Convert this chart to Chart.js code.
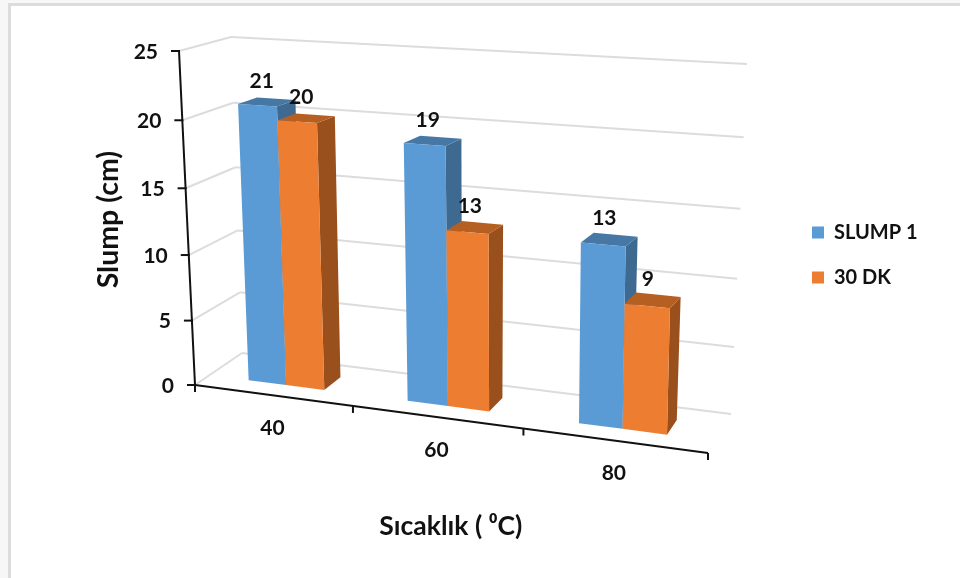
<!DOCTYPE html>
<html>
<head>
<meta charset="utf-8">
<script src="https://cdn.jsdelivr.net/npm/chart.js@4"></script>
<style>
  html, body { margin: 0; background: #fff; }
  #wrap { position: relative; width: 960px; height: 578px; overflow: hidden; background: #f7f7f7; }
  /* screenshot frame round the chart */
  #frame { position: absolute; left: 8px; top: 3px; right: -4px; bottom: -4px; background: #fff; border: 3px solid #dcdcdc; }
  canvas { position: absolute; left: 0; top: 0; }
</style>
</head>
<body>
<div id="wrap">
  <div id="frame"></div>
  <canvas id="chart" width="960" height="578"></canvas>
</div>
<script>
const categories = ["40", "60", "80"];
const seriesNames = ["SLUMP 1", "30 DK"];
const slump1 = [21, 19, 13];
const dk30 = [20, 13, 9];
const valueTicks = [0, 5, 10, 15, 20, 25];

const xTitle = "Sıcaklık ( ⁰C)";
const yTitle = "Slump (cm)";

const fontName = 'Lato, "Noto Sans", sans-serif';
const textColor = "#111";
const gridColor = "#dcdcdc";
const frontColors = ["#5B9BD5", "#ED7D31"];
const topColors = ["#4677A5", "#B65F23"];
const sideColors = ["#3E6A92", "#99501C"];

// corners of the 3d box on screen: value 0 left, value 0 right, top right, top left
const frontQuad = [[195, 385], [708, 453], [717, 79], [179, 51]];
const backQuad = [[242, 353], [731, 414], [747, 64], [231, 37]];
// bars stand between these two depths in the box
const barFront = 0.31;
const barBack = 0.69;

let area = null;

// maps the unit square on a four point shape (perspective)
function quadMap(q) {
    const [x0, y0] = q[0], [x1, y1] = q[1], [x2, y2] = q[2], [x3, y3] = q[3];
    const dx1 = x1 - x2, dx2 = x3 - x2, sx = x0 - x1 + x2 - x3;
    const dy1 = y1 - y2, dy2 = y3 - y2, sy = y0 - y1 + y2 - y3;
    const den = dx1 * dy2 - dx2 * dy1;
    const g = (sx * dy2 - dx2 * sy) / den;
    const h = (dx1 * sy - sx * dy1) / den;
    const a = x1 - x0 + g * x1, b = x3 - x0 + h * x3;
    const d = y1 - y0 + g * y1, e = y3 - y0 + h * y3;
    return (s, t) => {
        const n = g * s + h * t + 1;
        return [(a * s + b * t + x0) / n, (d * s + e * t + y0) / n];
    };
}
const frontMap = quadMap(frontQuad);
const backMap = quadMap(backQuad);

function project(s, t, w) {
    const p = frontMap(s, t), q = backMap(s, t);
    return [p[0] + (q[0] - p[0]) * w, p[1] + (q[1] - p[1]) * w];
}
// scale pixels to box coordinates
function toS(px) { return (px - area.left) / area.width; }
function toT(py) { return (area.bottom - py) / area.height; }

function fillFace(ctx, color, pts) {
    ctx.fillStyle = color;
    ctx.beginPath();
    pts.forEach((p, i) => i ? ctx.lineTo(p[0], p[1]) : ctx.moveTo(p[0], p[1]));
    ctx.closePath();
    ctx.fill();
}

function strokeLine(ctx, a, b, color, lineWidth) {
    ctx.strokeStyle = color;
    ctx.lineWidth = lineWidth;
    ctx.beginPath();
    ctx.moveTo(a[0], a[1]);
    ctx.lineTo(b[0], b[1]);
    ctx.stroke();
}

// bar element that draws the three visible faces, still placed by the chart's scales
class Bar3D extends Chart.BarElement {
    draw(ctx) {
        const { x, y, base, width } = this.getProps(["x", "y", "base", "width"], true);
        const s0 = toS(x - width / 2), s1 = toS(x + width / 2);
        const t0 = toT(base), t1 = toT(y);
        const i = frontColors.indexOf(this.options.backgroundColor);
        ctx.save();
        fillFace(ctx, sideColors[i], [project(s1, t0, barFront), project(s1, t1, barFront), project(s1, t1, barBack), project(s1, t0, barBack)]);
        fillFace(ctx, topColors[i], [project(s0, t1, barFront), project(s1, t1, barFront), project(s1, t1, barBack), project(s0, t1, barBack)]);
        fillFace(ctx, frontColors[i], [project(s0, t0, barFront), project(s1, t0, barFront), project(s1, t1, barFront), project(s0, t1, barFront)]);
        ctx.restore();
    }
}
Bar3D.id = "bar3d";
Bar3D.defaults = {};

class Bar3DController extends Chart.BarController {
    // chart.js paints the last dataset first, but here the right hand bar has to cover
    // the side of the left one. dataset 0 comes last so it paints them all in order
    draw() {
        if (this.index !== 0) return;
        const ctx = this.chart.ctx;
        this.chart.getSortedVisibleDatasetMetas().forEach(meta => {
            meta.data.forEach(bar => bar.draw(ctx));
        });
    }
}
Bar3DController.id = "bar3d";
Bar3DController.defaults = { dataElementType: "bar3d" };

Chart.register(Bar3D, Bar3DController);

const boxPlugin = {
    id: "box",
    afterLayout(chart) {
        // legend sits lower and further right than the default spot
        const legend = chart.legend;
        const h = legend.bottom - legend.top;
        legend.left = 787;
        legend.right = legend.left + legend.width;
        legend.top = 15;
        legend.bottom = legend.top + h;
    },
    beforeDatasetsDraw(chart) {
        area = chart.chartArea;
        const ctx = chart.ctx;
        const yScale = chart.scales.y;
        ctx.save();
        yScale.ticks.forEach(tick => {
            const t = toT(yScale.getPixelForValue(tick.value));
            strokeLine(ctx, project(0, t, 0), project(0, t, 1), gridColor, 2);
            strokeLine(ctx, project(0, t, 1), project(1, t, 1), gridColor, 2);
        });
        ctx.restore();
    },
    afterDatasetsDraw(chart) {
        const ctx = chart.ctx;
        const xScale = chart.scales.x, yScale = chart.scales.y;
        ctx.save();
        ctx.fillStyle = textColor;
        ctx.font = "bold 21px " + fontName;
        ctx.textBaseline = "middle";

        // value axis
        strokeLine(ctx, project(0, 0, 0), project(0, 1, 0), textColor, 2);
        ctx.textAlign = "right";
        yScale.ticks.forEach(tick => {
            const p = project(0, toT(yScale.getPixelForValue(tick.value)), 0);
            strokeLine(ctx, [p[0] - 8, p[1]], [p[0] + 1, p[1]], textColor, 2);
            ctx.fillText(String(tick.value), p[0] - 21, p[1] + 1);
        });

        // category axis
        strokeLine(ctx, project(0, 0, 0), project(1, 0, 0), textColor, 2);
        const band = xScale.width / categories.length;
        for (let i = 0; i <= categories.length; i++) {
            const p = project(toS(xScale.left + band * i), 0, 0);
            strokeLine(ctx, p, [p[0], p[1] + 7], textColor, 2);
        }
        ctx.textAlign = "center";
        categories.forEach((label, i) => {
            const p = project(toS(xScale.getPixelForTick(i)), 0, 0);
            ctx.fillText(label, p[0], p[1] + 33);
        });

        // value labels over the top face of each bar
        chart.data.datasets.forEach((dataset, d) => {
            chart.getDatasetMeta(d).data.forEach((bar, i) => {
                const p = project(toS(bar.x), toT(bar.y), 0.5);
                ctx.fillText(String(dataset.data[i]), p[0] - 5, p[1] - 21);
            });
        });
        ctx.restore();
    }
};

new Chart(document.getElementById("chart"), {
    type: "bar3d",
    data: {
        labels: categories,
        datasets: [
            { label: seriesNames[0], data: slump1, backgroundColor: frontColors[0], clip: false },
            { label: seriesNames[1], data: dk30, backgroundColor: frontColors[1], clip: false }
        ]
    },
    options: {
        responsive: false,
        animation: false,
        categoryPercentage: 0.485,
        barPercentage: 1,
        layout: { padding: { left: 92, right: 52, top: 62, bottom: 36 } },
        plugins: {
            tooltip: { enabled: false },
            legend: {
                position: "right",
                labels: {
                    boxWidth: 12,
                    boxHeight: 12,
                    padding: 25,
                    color: textColor,
                    font: { family: fontName, size: 20, weight: "bold" }
                }
            }
        },
        scales: {
            x: {
                grid: { display: false },
                border: { display: false },
                ticks: { display: false },
                title: {
                    display: true,
                    text: xTitle,
                    color: textColor,
                    font: { family: fontName, size: 26.5, weight: "bold" },
                    padding: { top: 125, bottom: 0 }
                }
            },
            y: {
                min: 0,
                max: 25,
                afterBuildTicks: scale => { scale.ticks = valueTicks.map(value => ({ value })); },
                grid: { display: false },
                border: { display: false },
                ticks: { display: false },
                title: {
                    display: true,
                    text: yTitle,
                    color: textColor,
                    font: { family: fontName, size: 28.5, weight: "bold" },
                    padding: 0
                }
            }
        }
    },
    plugins: [boxPlugin]
});
</script>
</body>
</html>
